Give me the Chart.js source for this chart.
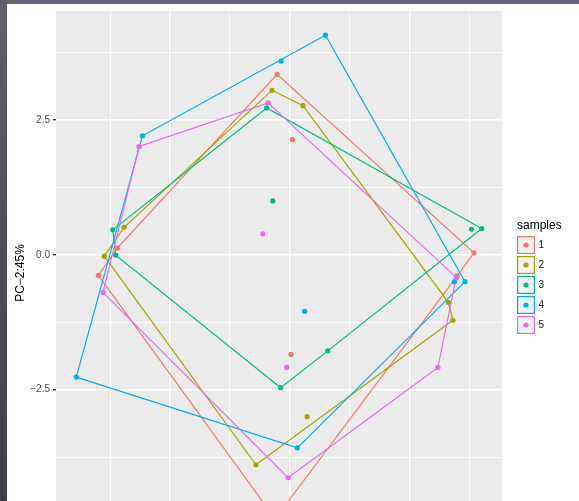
<!DOCTYPE html>
<html>

<head>
    <meta charset="utf-8">
    <title>PCA muestras</title>
    <script src="https://cdn.jsdelivr.net/npm/chart.js@4.4.0/dist/chart.umd.min.js"></script>
    <style>
        body { margin: 0; background: #fff; overflow: hidden; }
        #marco { position: relative; width: 579px; height: 501px; overflow: hidden; }
        #grafico-pca { position: absolute; left: 0; top: 0; }
        .borde-sup { position: absolute; left: 0; top: 0; width: 579px; height: 4px; background: #6a6575; }
        .borde-izq { position: absolute; left: 0; top: 0; width: 7px; height: 501px; background: linear-gradient(#625d6c, #3f3c45); }
    </style>
</head>

<body>
    <div id="marco">
        <canvas id="grafico-pca" width="579" height="552"></canvas>
        <div class="borde-sup"></div>
        <div class="borde-izq"></div>
    </div>

    <script>
        // Muestras y sus puntuaciones (PC1, PC2)
        const muestras = ['1', '2', '3', '4', '5'];

        const pc1_m1 = [-0.211, 0.045, -2.881, -3.199, 3.082, 2.801, 0.023, -0.243];
        const pc2_m1 = [3.344, 2.136, 0.122, -0.382, 0.037, -0.392, -1.847, -4.894];

        const pc1_m2 = [-0.295, 0.224, 2.653, 2.730, -0.564, -3.099, -2.769, 0.291];
        const pc2_m2 = [3.048, 2.764, -0.881, -1.214, -3.893, -0.026, 0.510, -3.000];

        const pc1_m3 = [-0.385, 3.211, 3.039, -2.958, -2.908, -0.281, 0.637, -0.151];
        const pc2_m3 = [2.721, 0.486, 0.473, 0.462, -0.007, 0.998, -1.781, -2.464];

        const pc1_m4 = [0.598, -0.144, -2.462, -3.568, 0.129, 2.931, 2.754, 0.251];
        const pc2_m4 = [4.070, 3.590, 2.204, -2.267, -3.578, -0.499, -0.499, -1.047];

        const pc1_m5 = [-0.362, -2.518, -3.121, -0.027, 2.479, 2.784, -0.452, -0.050];
        const pc2_m5 = [2.814, 2.006, -0.696, -4.133, -2.088, -0.419, 0.388, -2.088];

        const pc1 = [pc1_m1, pc1_m2, pc1_m3, pc1_m4, pc1_m5];
        const pc2 = [pc2_m1, pc2_m2, pc2_m3, pc2_m4, pc2_m5];

        // Cortes de las rejillas y etiquetas del eje Y
        const cortesX = [-3, -2, -1, 0, 1, 2, 3];
        const principalesX = [-2, 0, 2];
        const cortesY = [-5, -3.75, -2.5, -1.25, 0, 1.25, 2.5, 3.75];
        const principalesY = [-5, -2.5, 0, 2.5];
        const etiquetasY = ['\u22125.0', '\u22122.5', '0.0', '2.5'];
        const tituloY = 'PC\u22122:45%';

        const colores = ['#F8766D', '#A3A500', '#00BF7D', '#00B0F6', '#E76BF3'];

        // Envolvente convexa (cadena monotona)
        function envolvente(puntos) {
            const p = puntos.slice().sort((a, b) => a.x - b.x || a.y - b.y);
            const cruz = (o, a, b) => (a.x - o.x) * (b.y - o.y) - (a.y - o.y) * (b.x - o.x);
            const inf = [], sup = [];
            p.forEach(q => {
                while (inf.length >= 2 && cruz(inf[inf.length - 2], inf[inf.length - 1], q) <= 0) inf.pop();
                inf.push(q);
            });
            p.slice().reverse().forEach(q => {
                while (sup.length >= 2 && cruz(sup[sup.length - 2], sup[sup.length - 1], q) <= 0) sup.pop();
                sup.push(q);
            });
            const casco = inf.slice(0, -1).concat(sup.slice(0, -1));
            casco.push(casco[0]);
            return casco;
        }

        // Limites con 5% de expansion como ggplot
        const todosX = pc1.flat(), todosY = pc2.flat();
        const expandir = v => {
            const mn = Math.min(...v), mx = Math.max(...v), r = mx - mn;
            return [mn - 0.05 * r, mx + 0.05 * r];
        };
        const [xMin, xMax] = expandir(todosX);
        const [yMin, yMax] = expandir(todosY);

        const datasets = [];
        muestras.forEach((m, i) => {
            const puntos = pc1[i].map((x, k) => ({ x: x, y: pc2[i][k] }));
            datasets.push({
                label: m + '-casco',
                data: envolvente(puntos),
                showLine: true,
                borderColor: colores[i],
                borderWidth: 1.15,
                pointRadius: 0,
                fill: false,
                order: 20 - i
            });
            datasets.push({
                label: m,
                data: puntos,
                backgroundColor: colores[i],
                borderColor: colores[i],
                pointRadius: 2.6,
                borderWidth: 0,
                order: 10 - i
            });
        });

        // Fondo gris del panel
        const fondoPanel = {
            id: 'fondoPanel',
            beforeDraw(chart) {
                const { ctx, chartArea: a } = chart;
                ctx.save();
                ctx.fillStyle = '#ebebeb';
                ctx.fillRect(a.left, a.top, a.right - a.left, a.bottom - a.top);
                ctx.restore();
            }
        };

        // Titulo del eje Y y leyenda estilo ggplot
        const leyenda = {
            id: 'leyenda',
            afterDraw(chart) {
                const ctx = chart.ctx;
                ctx.save();
                ctx.fillStyle = '#000';
                ctx.font = '12px "Liberation Sans", Arial, sans-serif';
                ctx.textAlign = 'center';
                ctx.textBaseline = 'middle';
                ctx.translate(21, 273);
                ctx.rotate(-Math.PI / 2);
                ctx.fillText(tituloY, 0, 0);
                ctx.restore();

                const x0 = 517, y0 = 236, lado = 18, paso = 20;
                ctx.save();
                ctx.fillStyle = '#000';
                ctx.font = '12px "Liberation Sans", Arial, sans-serif';
                ctx.textBaseline = 'middle';
                ctx.fillText('samples', x0, 226);
                chart.data.datasets.filter(d => !d.showLine).forEach((d, i) => {
                    const y = y0 + i * paso;
                    ctx.fillStyle = '#f2f2f2';
                    ctx.fillRect(x0, y, lado, lado);
                    ctx.strokeStyle = d.borderColor;
                    ctx.lineWidth = 1.2;
                    ctx.strokeRect(x0 + 0.6, y + 0.6, lado - 1.2, lado - 1.2);
                    ctx.fillStyle = d.backgroundColor;
                    ctx.beginPath();
                    ctx.arc(x0 + lado / 2, y + lado / 2, 2.6, 0, Math.PI * 2);
                    ctx.fill();
                    ctx.fillStyle = '#1a1a1a';
                    ctx.font = '10px "Liberation Sans", Arial, sans-serif';
                    ctx.fillText(d.label, x0 + lado + 3.5, y + lado / 2 + 0.5);
                });
                ctx.restore();
            }
        };

        Chart.defaults.font.family = '"Liberation Sans", Arial, sans-serif';

        const ctx = document.getElementById('grafico-pca').getContext('2d');
        new Chart(ctx, {
            type: 'scatter',
            data: { datasets: datasets },
            plugins: [fondoPanel, leyenda],
            options: {
                responsive: false,
                animation: false,
                events: [],
                layout: { padding: { left: 0, top: 11, right: 77, bottom: 7 } },
                plugins: { legend: { display: false }, tooltip: { enabled: false } },
                scales: {
                    x: {
                        type: 'linear',
                        min: xMin,
                        max: xMax,
                        afterBuildTicks: s => { s.ticks = cortesX.map(v => ({ value: v })); },
                        afterFit: s => { s.height = 0; },
                        ticks: { display: false },
                        border: { display: false },
                        grid: {
                            color: '#ffffff',
                            drawTicks: false,
                            lineWidth: c => principalesX.includes(c.tick.value) ? 1.4 : 0.8
                        }
                    },
                    y: {
                        type: 'linear',
                        min: yMin,
                        max: yMax,
                        afterBuildTicks: s => { s.ticks = cortesY.map(v => ({ value: v })); },
                        afterFit: s => { s.width = 56; },
                        ticks: {
                            color: '#4d4d4d',
                            font: { size: 10 },
                            padding: 3,
                            callback: v => {
                                const k = principalesY.indexOf(v);
                                return k >= 0 ? etiquetasY[k] : '';
                            }
                        },
                        border: { display: false },
                        grid: {
                            color: '#ffffff',
                            tickLength: 3,
                            tickColor: c => principalesY.includes(c.tick.value) ? '#333333' : 'rgba(0,0,0,0)',
                            lineWidth: c => principalesY.includes(c.tick.value) ? 1.4 : 0.8
                        }
                    }
                }
            }
        });
    </script>
</body>

</html>
